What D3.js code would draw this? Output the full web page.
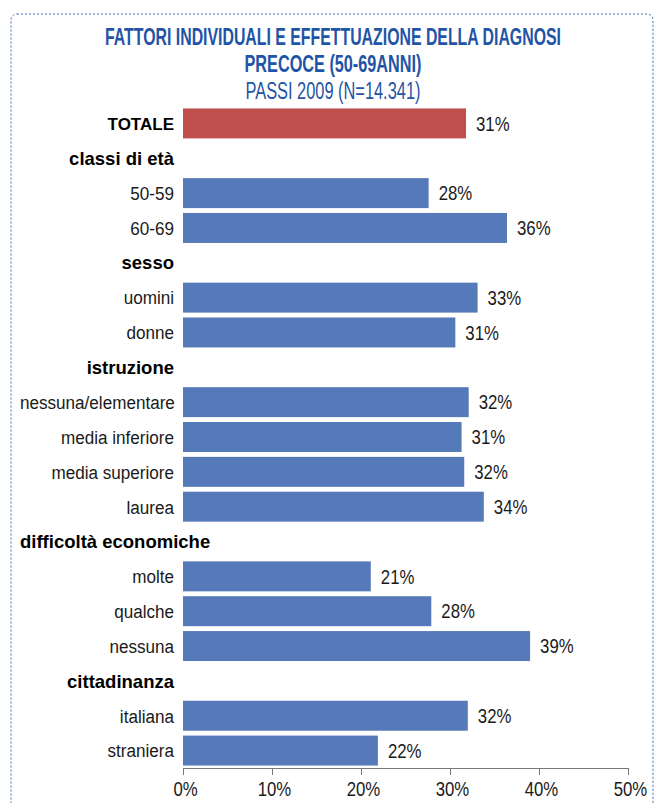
<!DOCTYPE html>
<html>
<head>
<meta charset="utf-8">
<script src="https://cdn.jsdelivr.net/npm/d3@7"></script>
<style>
body { margin: 0; background: #fff; }
svg { display: block; }
</style>
</head>
<body>
<svg id="chart" width="665" height="803"></svg>
<script>
// categories, in order (headers have no value)
var labels = ["TOTALE", "classi di età", "50-59", "60-69", "sesso", "uomini", "donne",
  "istruzione", "nessuna/elementare", "media inferiore", "media superiore", "laurea",
  "difficoltà economiche", "molte", "qualche", "nessuna",
  "cittadinanza", "italiana", "straniera"];
var values = [31.8, null, 27.6, 36.4, null, 33.1, 30.6,
  null, 32.1, 31.3, 31.6, 33.8,
  null, 21.1, 27.9, 39.0,
  null, 32.0, 21.9];
var valueLabels = ["31%", "", "28%", "36%", "", "33%", "31%",
  "", "32%", "31%", "32%", "34%",
  "", "21%", "28%", "39%",
  "", "32%", "22%"];
var headers = ["TOTALE", "classi di età", "sesso", "istruzione", "difficoltà economiche", "cittadinanza"];
var ticks = [0, 10, 20, 30, 40, 50];

var rows = labels.map(function(l, i) {
  return { label: l, value: values[i], text: valueLabels[i], header: headers.indexOf(l) >= 0 };
});

var NARROW = 0.84; // horizontal squeeze to mimic the narrow font

var svg = d3.select("#chart");

// dashed frame
svg.append("rect")
  .attr("x", 11).attr("y", 14)
  .attr("width", 642).attr("height", 820)
  .attr("rx", 6)
  .attr("fill", "none")
  .attr("stroke", "#3d6bb8")
  .attr("stroke-width", 1)
  .attr("stroke-dasharray", "2,2");

// title, squeezed to look condensed
var titleLines = [
  { t: "FATTORI INDIVIDUALI E EFFETTUAZIONE DELLA DIAGNOSI", y: 45, w: 456, bold: true },
  { t: "PRECOCE (50-69ANNI)", y: 72, w: 177, bold: true },
  { t: "PASSI 2009 (N=14.341)", y: 99, w: 175, bold: false }
];
svg.append("g").selectAll("text")
  .data(titleLines)
  .join("text")
  .attr("text-anchor", "middle")
  .attr("fill", "#1f54a6")
  .style("font", function(d) { return (d.bold ? "bold " : "") + "23px 'Liberation Sans', Arial, sans-serif"; })
  .text(function(d) { return d.t; })
  .each(function(d) {
    var s = d.w / this.getComputedTextLength();
    d3.select(this).attr("transform", "translate(333," + d.y + ") scale(" + s + ",1)");
  });

var x = d3.scaleLinear().domain([0, 50]).range([183, 628]);
var y = d3.scaleBand().domain(d3.range(rows.length)).range([106, 768]).paddingInner(0.14).paddingOuter(0.07);

var withValue = rows.filter(function(d) { return d.value != null; });

// bars
svg.append("g").selectAll("rect")
  .data(withValue)
  .join("rect")
  .attr("x", x(0))
  .attr("y", function(d) { return y(rows.indexOf(d)); })
  .attr("width", function(d) { return x(d.value) - x(0); })
  .attr("height", y.bandwidth())
  .attr("fill", function(d) { return d.label === "TOTALE" ? "#c0504d" : "#567ab9"; });

// value labels
svg.append("g").selectAll("text")
  .data(withValue)
  .join("text")
  .attr("transform", function(d) {
    return "translate(" + (x(d.value) + 10) + "," + (y(rows.indexOf(d)) + y.bandwidth() / 2) + ") scale(" + NARROW + ",1)";
  })
  .attr("dy", "0.36em")
  .attr("fill", "#1a1a1a")
  .style("font", "20px 'Liberation Sans', Arial, sans-serif")
  .text(function(d) { return d.text; });

// category labels
svg.append("g").selectAll("text")
  .data(rows)
  .join("text")
  .attr("dy", "0.36em")
  .attr("text-anchor", "end")
  .attr("fill", function(d) { return d.header ? "#000" : "#1a1a1a"; })
  .style("font", function(d) {
    if (d.label === "TOTALE") return "bold 17px 'Liberation Sans', Arial, sans-serif";
    return d.header ? "bold 18.5px 'Liberation Sans', Arial, sans-serif" : "19px 'Liberation Sans', Arial, sans-serif";
  })
  .text(function(d) { return d.label; })
  .each(function(d, i) {
    var s = d.header ? 1 : 0.9;
    var w = this.getComputedTextLength() * s;
    var cy = y(i) + y.bandwidth() / 2;
    var sel = d3.select(this);
    if (174 - w < 20) {
      sel.attr("text-anchor", "start").attr("transform", "translate(20," + cy + ") scale(" + s + ",1)");
    } else {
      sel.attr("transform", "translate(174," + cy + ") scale(" + s + ",1)");
    }
  });

// axis
var axis = svg.append("g")
  .attr("transform", "translate(0,768)")
  .call(d3.axisBottom(x).tickValues(ticks).tickSize(7).tickPadding(7)
    .tickFormat(function(d) { return d + "%"; }));
axis.select(".domain").attr("stroke", "#777").attr("d", "M183,0.5H628");
axis.selectAll(".tick line").attr("stroke", "#777");
axis.selectAll(".tick text")
  .attr("fill", "#1a1a1a")
  .attr("transform", "translate(2,0) scale(" + NARROW + ",1)")
  .style("font", "20px 'Liberation Sans', Arial, sans-serif");
</script>
</body>
</html>
